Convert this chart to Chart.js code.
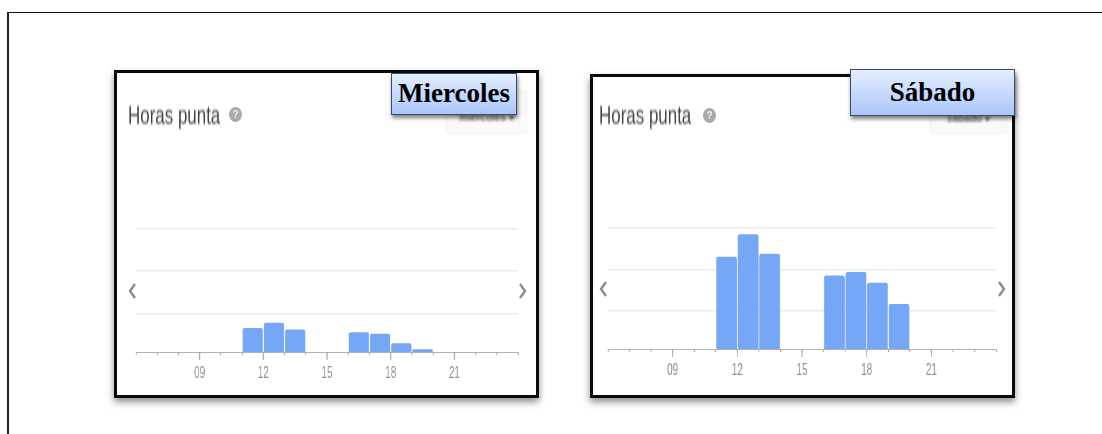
<!DOCTYPE html>
<html><head><meta charset="utf-8">
<script src="https://cdn.jsdelivr.net/npm/chart.js@4"></script>
<style>
html,body{margin:0;padding:0;background:#fff;width:1102px;height:434px;overflow:hidden}
.abs{position:absolute}
#frame{left:7px;top:12px;width:1095px;height:430px;border-left:2px solid #222;border-top:1px solid #111;box-sizing:border-box}
.panel{position:absolute;box-sizing:border-box;border:3px solid #0a0a0a;background:#fff;box-shadow:0 4px 7px rgba(0,0,0,.45)}
.head{position:absolute;font:22px "Liberation Sans",sans-serif;color:#444;filter:blur(.7px);white-space:nowrap;transform-origin:0 0;transform:scale(.77,1.14)}
.q{position:absolute;width:13px;height:15px;border-radius:50%;background:#aaa;color:#eee;font:bold 10px/15px "Liberation Sans",sans-serif;text-align:center;filter:blur(.6px)}
.drop{position:absolute;box-sizing:border-box;background:#fafafa;border:1px solid #eee;border-radius:2px;color:#777;font:bold 10px "Liberation Sans",sans-serif;text-align:center;filter:blur(.8px);white-space:nowrap}
.tag{position:absolute;box-sizing:border-box;border:1px solid #3c4a63;background:linear-gradient(#e4eeff,#aac7fb);box-shadow:1px 3px 4px rgba(0,0,0,.5);font:bold 27px "Liberation Serif",serif;color:#000;text-align:center;white-space:nowrap}
canvas{position:absolute;filter:blur(.55px)}
svg.chev{position:absolute;filter:blur(.4px)}
</style></head><body>
<div id="frame" class="abs"></div>

<div class="panel" style="left:114px;top:70px;width:425px;height:328px"></div>
<div class="panel" style="left:590px;top:74px;width:425px;height:324px"></div>

<div class="head" style="left:128px;top:101px">Horas punta</div>
<div class="q" style="left:229px;top:107px">?</div>
<div class="drop" style="left:446px;top:90px;width:81px;height:44px;padding-top:21px">miércoles ▾</div>
<div class="tag" style="left:391px;top:73px;width:126px;height:42px;line-height:38px">Miercoles</div>

<div class="head" style="left:599px;top:101px">Horas punta</div>
<div class="q" style="left:703px;top:108px">?</div>
<div class="drop" style="left:930px;top:90px;width:77px;height:44px;padding-top:22px">sábado ▾</div>
<div class="tag" style="left:850px;top:69px;width:165px;height:47px;line-height:44px">Sábado</div>

<svg class="chev" style="left:126px;top:281px" width="12" height="20"><polyline points="9,3 4,10 9,17" fill="none" stroke="#8c8c8c" stroke-width="2.4"/></svg>
<svg class="chev" style="left:517px;top:281px" width="12" height="20"><polyline points="3,3 8,10 3,17" fill="none" stroke="#8c8c8c" stroke-width="2.4"/></svg>
<svg class="chev" style="left:597px;top:279px" width="12" height="20"><polyline points="9,3 4,10 9,17" fill="none" stroke="#8c8c8c" stroke-width="2.4"/></svg>
<svg class="chev" style="left:996px;top:279px" width="12" height="20"><polyline points="3,3 8,10 3,17" fill="none" stroke="#8c8c8c" stroke-width="2.4"/></svg>

<canvas id="c1" width="648" height="163" style="left:126px;top:219px;width:402px;height:163px"></canvas>
<canvas id="c2" width="658" height="161" style="left:598px;top:218px;width:408px;height:161px"></canvas>

<script>
const barHours = [11.5, 12.5, 13.5, 16.5, 17.5, 18.5, 19.5];
const miercolesValues = [14.3, 17.3, 13.3, 11.7, 10.9, 5.2, 1.6];
const sabadoValues = [55.6, 69.3, 57.4, 44.4, 46.4, 40, 27.1];
const hourLabels = {9: '09', 12: '12', 15: '15', 18: '18', 21: '21'};
const gridValues = [23, 48, 73];

const majorTicks = {
  id: 'majorTicks',
  afterDraw(chart) {
    const s = chart.scales.x, c = chart.ctx;
    c.save();
    c.strokeStyle = '#aaa';
    c.lineWidth = 1.6;
    s.ticks.forEach(t => {
      if (hourLabels[t.value]) {
        const x = s.getPixelForValue(t.value);
        c.beginPath();
        c.moveTo(x, s.top);
        c.lineTo(x, s.top + 8);
        c.stroke();
      }
    });
    c.restore();
  }
};

function draw(id, values) {
  new Chart(document.getElementById(id), {
    type: 'bar',
    data: { datasets: [{
      data: barHours.map((h, i) => ({ x: h, y: values[i] })),
      backgroundColor: '#76a7f7',
      borderRadius: { topLeft: 3, topRight: 3 },
      borderSkipped: 'bottom',
      barPercentage: 0.96,
      categoryPercentage: 1
    }]},
    plugins: [majorTicks],
    options: {
      responsive: false,
      animation: false,
      events: [],
      layout: { padding: { left: 16, right: 16, top: 10, bottom: 0 } },
      plugins: { legend: { display: false }, tooltip: { enabled: false }, title: { display: false } },
      scales: {
        x: {
          type: 'linear', min: 6, max: 24, offset: false,
          afterFit: s => { s.height = 30; },
          border: { color: '#b0b0b0', width: 1 },
          grid: { offset: false, drawOnChartArea: false, drawTicks: true, tickLength: 3, tickColor: '#aaa', tickWidth: 1.6 },
          ticks: {
            stepSize: 1, autoSkip: false, maxRotation: 0, padding: 9,
            color: '#909090',
            font: { family: '"Liberation Sans",sans-serif', size: 16 },
            callback: v => hourLabels[v] || ''
          }
        },
        y: {
          min: 0, max: 73,
          afterBuildTicks: s => { s.ticks = gridValues.map(v => ({ value: v })); },
          afterFit: s => { s.width = 0; },
          border: { display: false },
          grid: { color: '#ececec', lineWidth: 1.4, drawTicks: false },
          ticks: { display: false }
        }
      }
    }
  });
}
draw('c1', miercolesValues);
draw('c2', sabadoValues);
</script>
</body></html>
